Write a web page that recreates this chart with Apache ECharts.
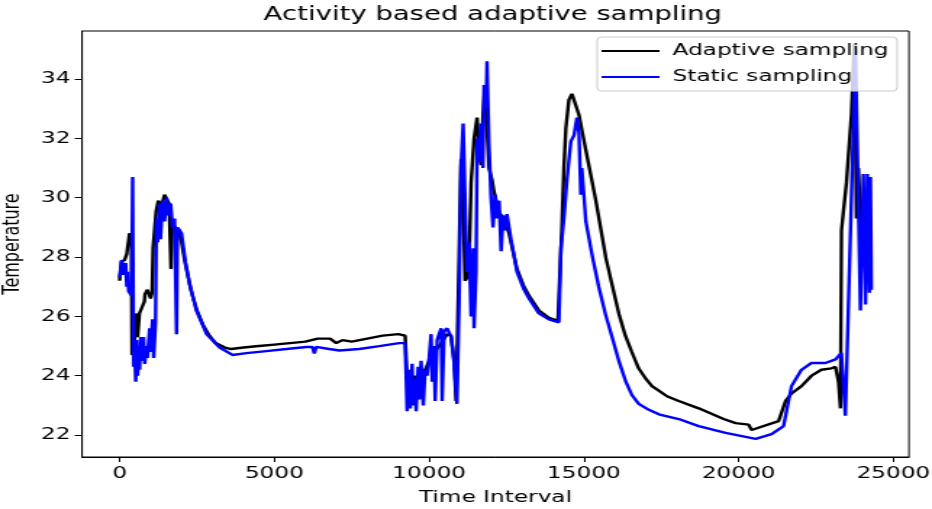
<!DOCTYPE html>
<html><head><meta charset="utf-8">
<script src="https://cdn.jsdelivr.net/npm/echarts@6/dist/echarts.min.js"></script>
<style>
html,body{margin:0;padding:0;background:#fff;overflow:hidden;}
#wrap{width:932px;height:509px;overflow:hidden;position:relative;}
#chart{width:643px;height:509px;transform:scaleX(1.449456);transform-origin:0 0;}
</style></head><body>
<div id="wrap"><div id="chart"></div></div>
<script>
// ---- data ----
const chartTitle = 'Activity based adaptive sampling';
const xName = 'Time Interval';
const yName = 'Temperature';
const seriesNames = ['Adaptive sampling', 'Static sampling'];
const xTicks = [0, 5000, 10000, 15000, 20000, 25000];
const yTicks = [22, 24, 26, 28, 30, 32, 34];

const adaptiveTime = [0,60,160,230,320,380,400,470,520,580,
  640,720,800,820,900,1000,1050,1080,1180,1250,
  1350,1450,1550,1600,1660,1700,1800,1900,2000,2100,
  2300,2500,2700,2900,3100,3400,3600,4000,4500,5000,
  5500,6000,6400,6800,7000,7200,7500,8000,8500,9000,
  9226,9290,9452,9516,9613,9742,9871,10000,10161,10387,
  10516,10581,10710,10806,10871,10968,11032,11097,11129,11161,
  11226,11290,11355,11452,11549,11613,11677,11742,11806,11839,
  11935,12032,12097,12258,12419,12581,12710,12839,13065,13226,
  13548,13871,14161,14290,14355,14419,14516,14613,14710,14839,
  15065,15387,15710,16129,16340,16548,16770,17000,17200,17419,
  17700,18065,18710,19516,19903,20323,20419,21290,21516,21710,
  22032,22355,22677,23000,23129,23226,23290,23323,23484,23645,
  23742,23806,23871,23968,24065];
const adaptiveTemp = [27.2,27.85,27.9,28.1,28.8,28.7,24.7,24.9,26.1,25.3,
  26.1,26.3,26.5,26.75,26.9,26.6,26.8,28.3,29.55,29.9,
  29.7,30.1,29.9,29.8,27.6,29.1,29.0,28.9,28.5,27.9,
  26.9,26.2,25.7,25.35,25.1,24.95,24.9,24.95,25.0,25.05,
  25.1,25.15,25.25,25.25,25.1,25.2,25.15,25.25,25.35,25.4,
  25.35,23.9,23.8,24.0,23.7,24.1,24.2,24.5,24.8,25.07,
  25.3,25.4,25.35,24.5,23.15,28,31.3,30.5,28.6,27.2,
  27.3,27.8,30.5,32.0,32.7,31.5,31.1,32.8,33.8,32.9,
  31.0,30.6,30.2,29.5,29.3,28.8,28.2,27.6,27.0,26.7,
  26.2,25.95,25.85,29.0,31.0,32.35,33.3,33.5,33.2,32.8,
  31.6,29.9,27.97,26.1,25.35,24.8,24.25,23.9,23.65,23.5,
  23.3,23.15,22.9,22.54,22.4,22.35,22.17,22.47,23.15,23.4,
  23.65,24.0,24.2,24.25,24.3,23.8,22.9,28.9,30.5,32.8,
  35.2,29.3,31,28.5,27.9];

const staticTime = [0,65,130,195,230,260,290,320,390,420,
  450,480,520,550,580,610,645,680,710,775,
  810,870,900,970,1000,1065,1100,1160,1190,1230,
  1290,1320,1390,1450,1520,1580,1650,1710,1775,1840,
  1870,1935,2000,2130,2260,2480,2810,3230,3645,4100,
  4740,5390,6030,6230,6290,6350,6770,7100,7740,8390,
  9030,9226,9290,9355,9390,9450,9480,9550,9580,9645,
  9680,9740,9810,9870,9935,10000,10065,10100,10160,10195,
  10260,10320,10390,10420,10485,10580,10710,10800,10900,10970,
  11030,11100,11160,11225,11290,11355,11420,11450,11515,11550,
  11610,11675,11740,11775,11840,11870,11935,12000,12065,12130,
  12195,12260,12325,12390,12450,12515,12645,12840,13065,13226,
  13548,13871,14194,14260,14355,14450,14520,14580,14680,14775,
  14840,14900,14935,15065,15260,15480,15690,15900,16130,16355,
  16550,16775,17100,17420,18065,18710,19580,20550,21065,21450,
  21710,22030,22355,22805,23130,23320,23450,23645,23775,23935,
  24030,24100,24160,24230,24260,24290];
const staticTemp = [27.3,27.9,27.4,27.8,27.0,27.5,26.85,26.9,26.7,30.7,
  24.3,25.0,23.8,25.2,24.0,25.0,24.2,25.3,24.5,25.3,
  24.4,25.0,24.6,25.6,24.8,25.9,24.6,25.8,29.3,28.5,
  29.8,28.6,29.9,29.2,30.0,29.4,29.8,29.0,29.3,25.4,
  29.0,28.9,28.8,27.8,27.1,26.2,25.4,24.95,24.7,24.76,
  24.83,24.9,24.97,24.97,24.75,24.97,24.9,24.85,24.9,25.0,
  25.1,25.1,22.8,24.2,22.9,24.4,23.0,23.9,22.8,24.3,
  23.2,24.5,23.0,24.2,24.0,24.6,25.4,23.8,25.0,23.15,
  25.2,25.4,25.6,23.15,25.5,25.6,25.3,24.5,23.05,26.5,
  31.0,32.5,30.0,27.5,28.5,26.0,28.3,25.6,27.5,32.0,
  31.2,32.5,31.0,33.8,33.0,34.6,31.8,30.0,29.0,30.1,
  29.3,29.9,28.2,29.4,28.9,29.45,28.6,27.5,26.9,26.6,
  26.1,25.9,25.8,28.3,29.3,30.55,31.3,31.9,32.1,32.7,
  32.2,30.1,31.0,29.2,28.1,27.0,26.1,25.35,24.5,23.8,
  23.35,23.05,22.85,22.7,22.54,22.3,22.07,21.87,22.03,22.3,
  23.65,24.2,24.43,24.43,24.55,24.77,22.65,30.0,35.0,26.2,
  30.8,26.4,30.8,26.8,30.7,26.9];

// ---- chart ----
const FONT = 'DejaVu Sans';
const pairs = (xs, ys) => xs.map((x, i) => [x, ys[i]]);
const chart = echarts.init(document.getElementById('chart'), null, {renderer: 'canvas'});
const axisText = {fontFamily: FONT, fontSize: 16, color: '#000'};
chart.setOption({
  animation: false,
  backgroundColor: '#ffffff',
  title: {
    text: chartTitle, left: 335, top: 1, textAlign: 'center',
    textStyle: {fontFamily: FONT, fontSize: 19, fontWeight: 'normal', color: '#000'}
  },
  legend: {
    orient: 'vertical', left: 412, top: 37,
    padding: [6, 6, 6, 3],
    itemWidth: 40, itemHeight: 14, itemGap: 10,
    icon: 'path://M0,0 L40,0 L40,2 L0,2 Z',
    backgroundColor: 'rgba(255,255,255,0.8)',
    borderColor: '#cccccc', borderWidth: 1, borderRadius: 3,
    textStyle: {fontFamily: FONT, fontSize: 16, color: '#000', padding: [0, 0, 0, 4]},
    data: seriesNames
  },
  grid: {
    left: 56.6, right: 15.9, top: 31, bottom: 52,
    outerBoundsMode: 'none', containLabel: false,
    show: true, borderColor: '#000', borderWidth: 1, backgroundColor: 'transparent'
  },
  xAxis: {
    type: 'value', min: -1214, max: 25504,
    name: xName, nameLocation: 'middle', nameGap: 33,
    nameTextStyle: axisText,
    axisLine: {show: true, onZero: false, lineStyle: {color: '#000', width: 1}},
    axisTick: {show: true, length: 5, inside: false, customValues: xTicks, lineStyle: {color: '#000'}},
    axisLabel: Object.assign({customValues: xTicks, formatter: v => String(v), margin: 9}, axisText),
    splitLine: {show: false}
  },
  yAxis: {
    type: 'value', min: 21.26, max: 35.62,
    name: yName, nameLocation: 'middle', nameGap: 39,
    nameTextStyle: axisText,
    axisLine: {show: true, onZero: false, lineStyle: {color: '#000', width: 1}},
    axisTick: {show: true, length: 5, inside: false, customValues: yTicks, lineStyle: {color: '#000'}},
    axisLabel: Object.assign({customValues: yTicks, formatter: v => String(v), margin: 8}, axisText),
    splitLine: {show: false}
  },
  series: [
    {name: seriesNames[0], type: 'line', symbol: 'none', clip: true,
     lineStyle: {color: '#000000', width: 2.4}, itemStyle: {color: '#000000'},
     data: pairs(adaptiveTime, adaptiveTemp)},
    {name: seriesNames[1], type: 'line', symbol: 'none', clip: true,
     lineStyle: {color: '#0000ff', width: 2.4}, itemStyle: {color: '#0000ff'},
     data: pairs(staticTime, staticTemp)}
  ]
});
</script>
</body></html>
